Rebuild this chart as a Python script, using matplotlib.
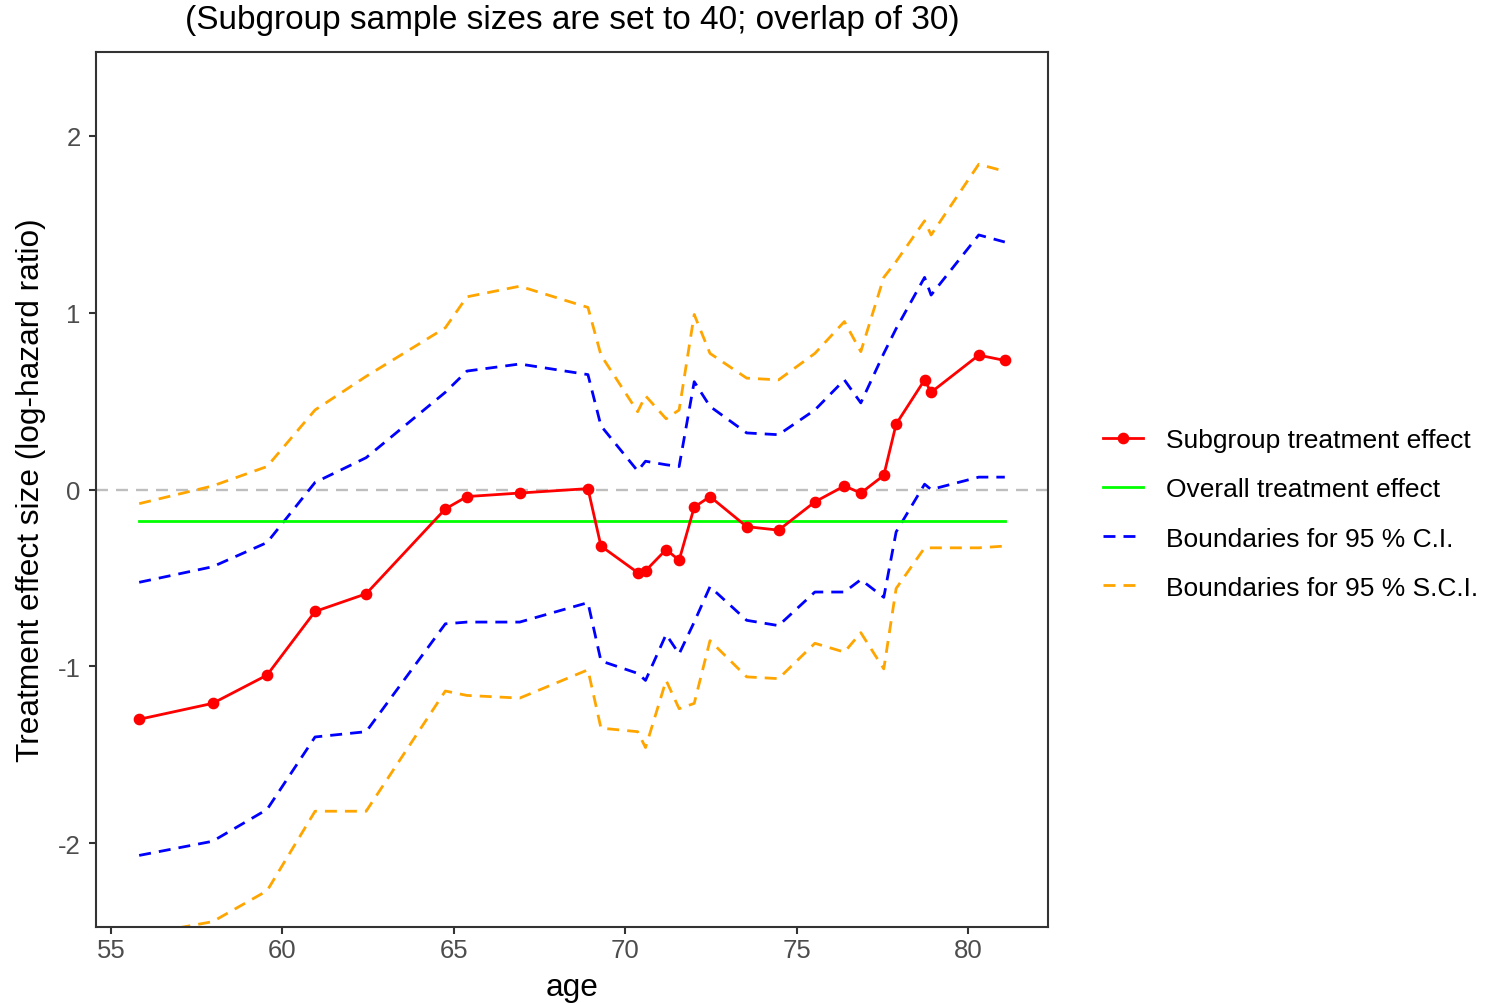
import matplotlib
matplotlib.use("Agg")
import matplotlib.pyplot as plt
from matplotlib.lines import Line2D

plt.rcParams['font.family'] = ['Liberation Sans', 'DejaVu Sans']
plt.rcParams['lines.scale_dashes'] = False

# Subgroup centres (mean age of each sliding-window subgroup)
age = [55.82, 57.96, 59.55, 60.95, 62.44, 64.75, 65.38, 66.92, 68.91, 69.29,
       70.36, 70.59, 71.19, 71.57, 72.01, 72.47, 73.54, 74.47, 75.53, 76.39,
       76.87, 77.54, 77.90, 78.73, 78.92, 80.31, 81.07]

# Estimated log-hazard ratio per subgroup
effect = [-1.30, -1.21, -1.05, -0.69, -0.59, -0.11, -0.04, -0.02, 0.005, -0.32,
          -0.47, -0.46, -0.34, -0.40, -0.10, -0.04, -0.21, -0.23, -0.07, 0.02,
          -0.02, 0.08, 0.37, 0.62, 0.55, 0.76, 0.73]

# Pointwise 95 % confidence interval
ci_upper = [-0.525, -0.437, -0.30, 0.04, 0.18, 0.55, 0.67, 0.71, 0.65, 0.36,
            0.105, 0.16, 0.14, 0.13, 0.61, 0.47, 0.32, 0.31, 0.45, 0.62,
            0.49, 0.77, 0.91, 1.20, 1.10, 1.44, 1.40]
ci_lower = [-2.07, -1.99, -1.81, -1.40, -1.37, -0.76, -0.75, -0.75, -0.64, -0.97,
            -1.04, -1.08, -0.82, -0.93, -0.75, -0.55, -0.74, -0.77, -0.58, -0.58,
            -0.51, -0.61, -0.24, 0.03, 0.00, 0.07, 0.07]

# Simultaneous 95 % confidence band
sci_upper = [-0.08, 0.02, 0.13, 0.45, 0.64, 0.915, 1.09, 1.15, 1.03, 0.76,
             0.44, 0.53, 0.40, 0.45, 0.99, 0.77, 0.63, 0.62, 0.77, 0.95,
             0.78, 1.20, 1.29, 1.52, 1.44, 1.84, 1.80]
sci_lower = [-2.52, -2.445, -2.27, -1.82, -1.82, -1.14, -1.165, -1.18, -1.02, -1.35,
             -1.37, -1.46, -1.08, -1.24, -1.21, -0.855, -1.06, -1.07, -0.87, -0.92,
             -0.81, -1.015, -0.56, -0.33, -0.33, -0.33, -0.32]

overall_effect = -0.177

x_ticks = [55, 60, 65, 70, 75, 80]
y_ticks = [-2, -1, 0, 1, 2]

title = "(Subgroup sample sizes are set to 40; overlap of 30)"
x_label = "age"
y_label = "Treatment effect size (log-hazard ratio)"
legend_labels = ["Subgroup treatment effect", "Overall treatment effect",
                 "Boundaries for 95 % C.I.", "Boundaries for 95 % S.C.I."]

W, H = 1504, 1004
fig = plt.figure(figsize=(W / 100, H / 100), dpi=100)
ax_l, ax_r, ax_t, ax_b = 96, 1048, 53, 928
ax = fig.add_axes([ax_l / W, 1 - ax_b / H, (ax_r - ax_l) / W, (ax_b - ax_t) / H])

lw = 2.0
dash = (8.6, 5.8)

ax.axhline(0, color='#BEBEBE', lw=1.7, dashes=dash, zorder=1)
for series in (ci_upper, ci_lower):
    ax.plot(age, series, color='blue', lw=lw, dashes=dash, zorder=2)
for series in (sci_upper, sci_lower):
    ax.plot(age, series, color='orange', lw=lw, dashes=dash, zorder=2)
ax.plot([age[0], age[-1]], [overall_effect, overall_effect], color='#00FF00', lw=lw, zorder=3)
ax.plot(age, effect, color='red', lw=lw, marker='o', ms=7.4, zorder=4)

ax.set_xlim(54.56, 82.33)
ax.set_ylim(-2.475, 2.475)
ax.set_xticks(x_ticks)
ax.set_yticks(y_ticks)
ax.set_xticklabels([str(t) for t in x_ticks])
ax.set_yticklabels([str(t) for t in y_ticks])

for s in ax.spines.values():
    s.set_color('#333333')
    s.set_linewidth(1.5)
ax.tick_params(axis='both', length=5, width=1.5, color='#333333',
               labelcolor='#4D4D4D', labelsize=18.5)
ax.tick_params(axis='x', pad=3)
ax.tick_params(axis='y', pad=6)

cx = (ax_l + ax_r) / 2 / W
fig.text(cx, 1 - 21 / H, title, ha='center', va='center', fontsize=24, color='black')
fig.text(cx, 1 - 988 / H, x_label, ha='center', va='center', fontsize=22.8, color='black')
fig.text(31 / W, 1 - 490 / H, y_label, ha='center', va='center', rotation=90,
         fontsize=22.8, color='black')

handles = [
    Line2D([], [], color='red', lw=lw, marker='o', ms=7.4),
    Line2D([], [], color='#00FF00', lw=lw),
    Line2D([], [], color='blue', lw=lw, dashes=dash),
    Line2D([], [], color='orange', lw=lw, dashes=dash),
]
fs = 19
fs_px = fs * 100 / 72
fig.legend(handles, legend_labels, loc='center left',
           bbox_to_anchor=(1103 / W, 1 - 515 / H), frameon=False, fontsize=fs,
           handlelength=40 / fs_px, handletextpad=23 / fs_px, borderpad=0,
           borderaxespad=0, labelspacing=0.95)

fig.savefig("out.png", dpi=100)
